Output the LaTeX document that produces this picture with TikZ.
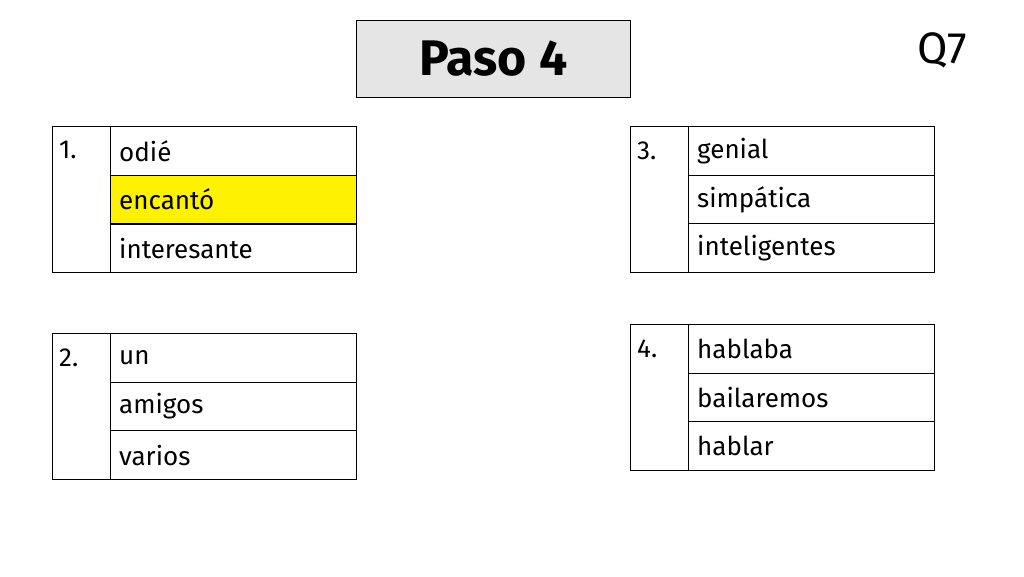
\documentclass[tikz,border=0pt]{standalone}
\usepackage{fontspec}
\setmainfont{Fira Sans}
\begin{document}
\begin{tikzpicture}[x=1pt,y=-1pt,
  cell/.style={draw=black,line width=0.8pt,anchor=north west,inner sep=0pt},
  word/.style={anchor=west,font=\fontsize{26}{30}\selectfont,inner sep=0pt}]
\useasboundingbox (0,0) rectangle (1024,576);
\node[cell,fill=gray!20,minimum width=274pt,minimum height=77pt,font=\fontsize{50}{54}\selectfont\bfseries] (title) at (356,20) {Paso 4};
\node[font=\fontsize{44}{48}\selectfont] (q7) at (942,50) {Q7};
\newcommand{\mytable}[7]{%
  \node[cell,minimum width=58pt,minimum height=3*#4 pt] (#1n) at (#2,#3) {};
  \node[word] (#1num) at ([xshift=7pt,yshift=-0.5*#4 pt]#1n.north west) {#5};
  \foreach \w [count=\i from 0] in {#6} {
    \node[cell,minimum width=246pt,minimum height=#4 pt] (#1r\i) at (#2+58,#3+\i*#4) {};
    \node[word] (#1w\i) at ([xshift=9pt]#1r\i.west) {\w};
  }}
\node[cell,fill=yellow,minimum width=246pt,minimum height=49pt] (hl) at (110,175) {};
\mytable{a}{52}{126}{48.7}{1.}{odié,encantó,interesante}{}
\mytable{b}{52}{333}{48.7}{2.}{un,amigos,varios}{}
\mytable{c}{630}{126}{48.7}{3.}{genial,simpática,inteligentes}{}
\mytable{d}{630}{324}{48.7}{4.}{hablaba,bailaremos,hablar}{}
\end{tikzpicture}
\end{document}
